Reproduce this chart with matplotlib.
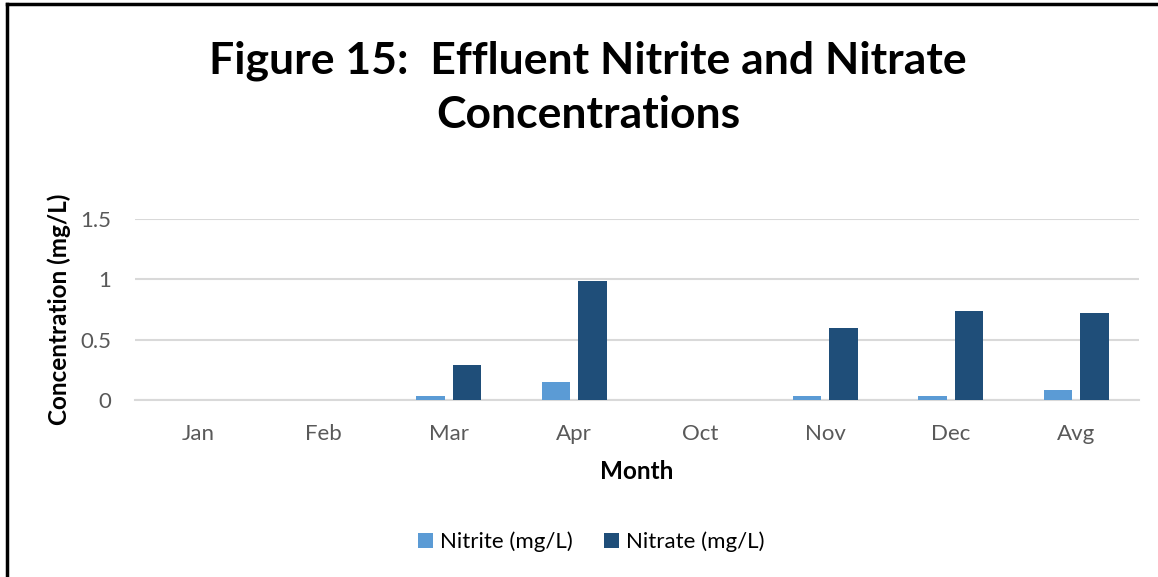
import matplotlib.pyplot as plt
import numpy as np

months = ["Jan", "Feb", "Mar", "Apr", "Oct", "Nov", "Dec", "Avg"]
nitrite = [0, 0, 0.03, 0.15, 0, 0.03, 0.03, 0.08]
nitrate = [0, 0, 0.29, 0.99, 0, 0.60, 0.74, 0.72]

plt.rcParams['font.family'] = ['Lato', 'DejaVu Sans']

fig = plt.figure(figsize=(11.58, 5.77), dpi=100)
ax = fig.add_axes([135/1158, 1 - 400/577, (1139-135)/1158, (400-219)/577])

x = np.arange(len(months))
w = 0.23
ax.bar(x - 0.145, nitrite, w, color="#5b9bd5", label="Nitrite (mg/L)", zorder=3)
ax.bar(x + 0.145, nitrate, w, color="#1f4e79", label="Nitrate (mg/L)", zorder=3)

ax.set_xlim(-0.5, len(months) - 0.5)
ax.set_ylim(0, 1.5)
ax.set_yticks([0, 0.5, 1, 1.5])
ax.set_yticklabels(["0", "0.5", "1", "1.5"])
ax.set_xticks(x)
ax.set_xticklabels(months)
ax.tick_params(axis="both", length=0, labelsize=16, colors="#595959")
ax.tick_params(axis="x", pad=17)
ax.tick_params(axis="y", pad=17)
ax.grid(axis="y", color="#d9d9d9", linewidth=1.5, zorder=0)
for s in ["top", "right", "left"]:
    ax.spines[s].set_visible(False)
ax.spines["bottom"].set_color("#d9d9d9")
ax.spines["bottom"].set_linewidth(1.5)

ax.set_xlabel("Month", fontsize=17.5, fontweight="bold", labelpad=12)
ax.set_ylabel("Concentration (mg/L)", fontsize=17.5, fontweight="bold", labelpad=7)

fig.text(0.508, 1 - 135/577, "Figure 15:  Effluent Nitrite and Nitrate\nConcentrations",
         ha="center", va="bottom", fontsize=32, fontweight="bold", linespacing=1.42)

fig.legend(loc="center", bbox_to_anchor=(591/1158, 1 - 542/577), ncol=2,
           frameon=False, fontsize=16, handlelength=0.7, handleheight=0.7,
           handletextpad=0.3, columnspacing=1.4)

# frame lines on left and top
fig.add_artist(plt.Line2D([7/1158, 7/1158], [0, 1 - 4/577], color="black", linewidth=2.5))
fig.add_artist(plt.Line2D([7/1158, 1], [1 - 4/577, 1 - 4/577], color="black", linewidth=2.5))

fig.savefig("out.png", dpi=100)
